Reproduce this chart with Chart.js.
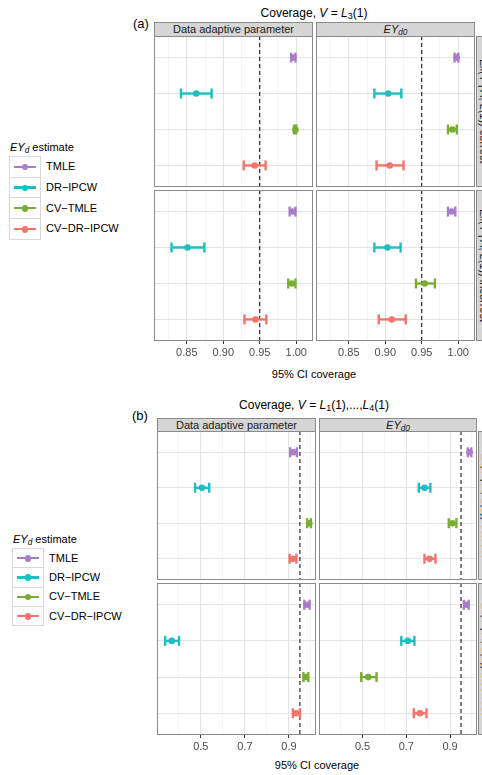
<!DOCTYPE html>
<html><head><meta charset="utf-8">
<script src="https://cdn.jsdelivr.net/npm/chart.js@4/dist/chart.umd.min.js"></script>
<style>
html,body{margin:0;padding:0;background:#fff;}
body{width:482px;height:775px;position:relative;overflow:hidden;font-family:"Liberation Sans",Arial,sans-serif;color:#000;}
.abs{position:absolute;}
.title{font-size:12px;white-space:nowrap;transform:translateX(-50%);line-height:14px;}
.tag{font-size:13px;line-height:14px;}
.strip{background:#d6d6d6;border:1px solid #8a8a8a;box-sizing:border-box;font-size:11px;text-align:center;color:#1a1a1a;line-height:12px;white-space:nowrap;overflow:hidden;}
.vstrip{background:#d6d6d6;border:1px solid #8a8a8a;box-sizing:border-box;font-size:11px;color:#1a1a1a;writing-mode:vertical-rl;text-align:center;white-space:nowrap;overflow:hidden;line-height:14px;}
.frame{border:1px solid #8a8a8a;box-sizing:border-box;pointer-events:none;}
.axtitle{font-size:11px;white-space:nowrap;transform:translateX(-50%);line-height:12px;color:#000;}
.ltitle{font-size:11px;white-space:nowrap;line-height:12px;}
.lkey{border:1px solid #d9d9d9;box-sizing:border-box;background:#fff;}
.llab{font-size:11px;white-space:nowrap;line-height:12px;color:#000;}
sub{font-size:75%;vertical-align:-2px;line-height:0;}
</style>
</head><body>
<script>
// ---------- DATA ----------
const methods = ["TMLE", "DR\u2212IPCW", "CV\u2212TMLE", "CV\u2212DR\u2212IPCW"];
const colors  = ["#A97BCA", "#1EBEC3", "#79AD33", "#F4736B"];
const refCoverage = 0.95;

// (a) V = L3(1)
const aDapCorrectEst = [0.996, 0.863, 0.999, 0.943];
const aDapCorrectLo  = [0.993, 0.842, 0.997, 0.928];
const aDapCorrectHi  = [0.999, 0.884, 1.000, 0.958];
const aEyCorrectEst  = [0.998, 0.904, 0.992, 0.906];
const aEyCorrectLo   = [0.995, 0.885, 0.986, 0.888];
const aEyCorrectHi   = [1.000, 0.922, 0.998, 0.925];
const aDapIncorEst   = [0.995, 0.851, 0.994, 0.944];
const aDapIncorLo    = [0.991, 0.829, 0.989, 0.929];
const aDapIncorHi    = [0.999, 0.874, 0.999, 0.959];
const aEyIncorEst    = [0.991, 0.903, 0.954, 0.909];
const aEyIncorLo     = [0.986, 0.885, 0.942, 0.891];
const aEyIncorHi     = [0.996, 0.921, 0.968, 0.928];

// (b) V = L1(1),...,L4(1)
const bDapCorrectEst = [0.921, 0.505, 0.992, 0.918];
const bDapCorrectLo  = [0.906, 0.474, 0.983, 0.903];
const bDapCorrectHi  = [0.936, 0.538, 1.000, 0.934];
const bEyCorrectEst  = [0.989, 0.783, 0.911, 0.806];
const bEyCorrectLo   = [0.981, 0.757, 0.894, 0.783];
const bEyCorrectHi   = [0.997, 0.810, 0.929, 0.833];
const bDapIncorEst   = [0.982, 0.368, 0.977, 0.933];
const bDapIncorLo    = [0.970, 0.338, 0.966, 0.918];
const bDapIncorHi    = [0.994, 0.401, 0.988, 0.950];
const bEyIncorEst    = [0.974, 0.707, 0.526, 0.762];
const bEyIncorLo     = [0.963, 0.677, 0.494, 0.734];
const bEyIncorHi     = [0.985, 0.737, 0.564, 0.792];

// tick labels / grid
const aGridValues  = [0.825, 0.85, 0.875, 0.90, 0.925, 0.95, 0.975, 1.00];
const aTickValues  = [0.85, 0.90, 0.95, 1.00];
const aTickLabels  = ["0.85", "0.90", "0.95", "1.00"];
const bGridValues  = [0.4, 0.5, 0.6, 0.7, 0.8, 0.9, 1.0];
const bTickValues  = [0.5, 0.7, 0.9];
const bTickLabels  = ["0.5", "0.7", "0.9"];
const rowValues    = [1, 2, 3, 4];

// ---------- HELPERS ----------
const FONT = '"Liberation Sans", Arial, sans-serif';
function addHTML(html){ const d=document.createElement('div'); d.innerHTML=html; while(d.firstChild) document.body.appendChild(d.firstChild); }

function idxOf(arr, v){ for(let i=0;i<arr.length;i++) if(Math.abs(arr[i]-v)<1e-6) return i; return -1; }

function makePanel(left, top, w, h, showTicks, xmin, xmax, gridVals, tickVals, tickLabels, est, lo, hi){
  const extra = showTicks ? 20 : 0;
  const canvas = document.createElement('canvas');
  canvas.width = w; canvas.height = h + extra;
  canvas.style.cssText = `position:absolute;left:${left}px;top:${top}px;width:${w}px;height:${h+extra}px;`;
  document.body.appendChild(canvas);
  const datasets = [{
    type:'line', data:[{x:refCoverage,y:0.4},{x:refCoverage,y:4.6}],
    borderColor:'#000', borderWidth:1, borderDash:[4,3], pointRadius:0, order:5
  }];
  methods.forEach((m,i)=>{
    datasets.push({type:'line', data:[{x:lo[i],y:rowValues[i]},{x:hi[i],y:rowValues[i]}],
      borderColor:colors[i], borderWidth:2.4, pointStyle:'line', pointRotation:90,
      pointRadius:5, pointHoverRadius:5, pointBorderWidth:2.4, pointBorderColor:colors[i], order:2});
    datasets.push({type:'scatter', data:[{x:est[i],y:rowValues[i]}],
      pointRadius:3.3, pointHoverRadius:3.3, backgroundColor:colors[i], borderWidth:0, pointStyle:'circle', order:1});
  });
  const isMajor = v => idxOf(tickVals, v) >= 0;
  new Chart(canvas, {
    data:{datasets},
    options:{
      responsive:false, maintainAspectRatio:false, animation:false, devicePixelRatio:1,
      layout:{padding:0, autoPadding:false},
      plugins:{legend:{display:false}, tooltip:{enabled:false}},
      events:[],
      scales:{
        x:{type:'linear', min:xmin, max:xmax,
          afterBuildTicks:s=>{ s.ticks = gridVals.map(v=>({value:v})); },
          afterFit:s=>{ s.height = extra; s.paddingLeft=0; s.paddingRight=0; },
          border:{display:false},
          grid:{
            color:c=> isMajor(c.tick.value) ? '#e3e3e3' : '#f0f0f0',
            lineWidth:c=> isMajor(c.tick.value) ? 1 : 0.7,
            drawTicks:showTicks, tickLength:3,
            tickColor:c=> isMajor(c.tick.value) ? '#333333' : 'rgba(0,0,0,0)',
            tickWidth:1
          },
          ticks:{display:showTicks, autoSkip:false, maxRotation:0, minRotation:0, padding:2,
            color:'#4d4d4d', font:{size:11, family:FONT},
            callback:(v)=>{ const k=idxOf(tickVals, v); return k>=0 ? tickLabels[k] : ''; }}
        },
        y:{type:'linear', min:0.4, max:4.6, reverse:true,
          afterBuildTicks:s=>{ s.ticks = rowValues.map(v=>({value:v})); },
          afterFit:s=>{ s.width = 0; },
          border:{display:false},
          grid:{color:'#e3e3e3', lineWidth:1, drawTicks:false},
          ticks:{display:false}
        }
      }
    }
  });
  addHTML(`<div class="abs frame" style="left:${left}px;top:${top}px;width:${w}px;height:${h}px;"></div>`);
}

function makeLegend(left, top, rowH){
  addHTML(`<div class="abs ltitle" style="left:${left}px;top:${top}px;"><i>EY<sub>d</sub></i> estimate</div>`);
  methods.forEach((m,i)=>{
    const y = top + 15 + i*rowH;
    const c = colors[i];
    addHTML(`<div class="abs lkey" style="left:${left-1}px;top:${y}px;width:32px;height:${rowH+1}px;">
      <div class="abs" style="left:4px;top:${(rowH+1)/2-2.2}px;width:22px;height:2.4px;background:${c}"></div>
      <div class="abs" style="left:11.5px;top:${(rowH+1)/2-4}px;width:6.6px;height:6.6px;border-radius:50%;background:${c}"></div>
    </div>
    <div class="abs llab" style="left:${left+36}px;top:${y+rowH/2-6}px;">${m}</div>`);
  });
}

// ---------- PANEL (a) ----------
addHTML(`<div class="abs title" style="left:314px;top:6px;">Coverage, <i>V</i> = <i>L</i><sub>3</sub>(1)</div>
<div class="abs tag" style="left:133px;top:17px;">(a)</div>
<div class="abs strip" style="left:154px;top:22px;width:159px;height:15px;">Data adaptive parameter</div>
<div class="abs strip" style="left:316px;top:22px;width:159px;height:15px;"><i>EY<sub>d0</sub></i></div>
<div class="abs vstrip" style="left:476px;top:36px;width:16px;height:151px;">E<sub>n</sub>(Y | A, L(1)) correct</div>
<div class="abs vstrip" style="left:476px;top:190px;width:16px;height:151px;">E<sub>n</sub>(Y | A, L(1)) incorrect</div>
<div class="abs axtitle" style="left:314px;top:368px;">95% CI coverage</div>`);

makePanel(154, 36, 159, 151, false, 0.805, 1.023, aGridValues, aTickValues, aTickLabels, aDapCorrectEst, aDapCorrectLo, aDapCorrectHi);
makePanel(316, 36, 159, 151, false, 0.805, 1.023, aGridValues, aTickValues, aTickLabels, aEyCorrectEst, aEyCorrectLo, aEyCorrectHi);
makePanel(154, 190, 159, 151, true, 0.805, 1.023, aGridValues, aTickValues, aTickLabels, aDapIncorEst, aDapIncorLo, aDapIncorHi);
makePanel(316, 190, 159, 151, true, 0.805, 1.023, aGridValues, aTickValues, aTickLabels, aEyIncorEst, aEyIncorLo, aEyIncorHi);
makeLegend(10, 141, 20.7);

// ---------- PANEL (b) ----------
addHTML(`<div class="abs title" style="left:314px;top:398px;">Coverage, <i>V</i> = <i>L</i><sub>1</sub>(1),...,<i>L</i><sub>4</sub>(1)</div>
<div class="abs tag" style="left:132px;top:409px;">(b)</div>
<div class="abs strip" style="left:157px;top:418px;width:159px;height:14px;">Data adaptive parameter</div>
<div class="abs strip" style="left:319px;top:418px;width:158px;height:14px;"><i>EY<sub>d0</sub></i></div>
<div class="abs vstrip" style="left:478px;top:431px;width:16px;height:149px;">E<sub>n</sub>(Y | A, L(1)) correct</div>
<div class="abs vstrip" style="left:478px;top:583px;width:16px;height:152px;">E<sub>n</sub>(Y | A, L(1)) incorrect</div>
<div class="abs axtitle" style="left:317px;top:759px;">95% CI coverage</div>`);

makePanel(157, 431, 159, 149, false, 0.301, 1.023, bGridValues, bTickValues, bTickLabels, bDapCorrectEst, bDapCorrectLo, bDapCorrectHi);
makePanel(319, 431, 158, 149, false, 0.301, 1.023, bGridValues, bTickValues, bTickLabels, bEyCorrectEst, bEyCorrectLo, bEyCorrectHi);
makePanel(157, 583, 159, 152, true, 0.301, 1.023, bGridValues, bTickValues, bTickLabels, bDapIncorEst, bDapIncorLo, bDapIncorHi);
makePanel(319, 583, 158, 152, true, 0.301, 1.023, bGridValues, bTickValues, bTickLabels, bEyIncorEst, bEyIncorLo, bEyIncorHi);
makeLegend(13, 533, 19.3);
</script>
</body></html>
